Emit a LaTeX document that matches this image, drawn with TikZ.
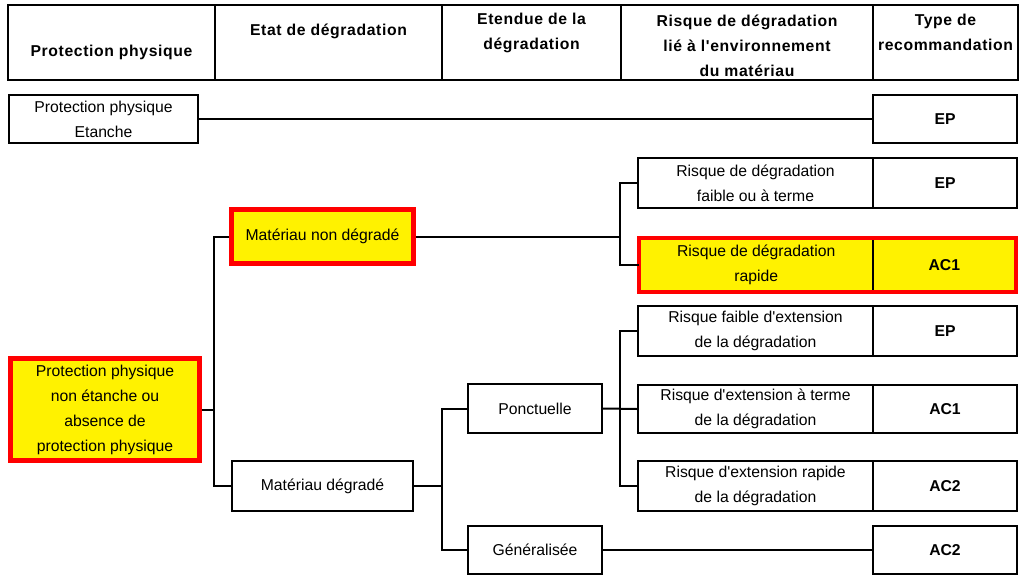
\documentclass[tikz,border=0pt]{standalone}
\usepackage{fontspec}
\setmainfont{Liberation Sans}[Ligatures=TeXOff]
\newfontfamily\hdfont[LetterSpace=4, Ligatures=TeXOff]{Liberation Sans}
\newcommand\txt{\fontsize{11.8}{18.75}\selectfont}
\tikzset{
	sz/.style 2 args={minimum width=#1*0.75pt, minimum height=#2*0.75pt},
	box/.style={draw, line width=1.5pt, inner sep=0pt, align=center, font=\txt},
	hi/.style={box, draw=red, fill=yellow, line width=3.5pt},
	hifill/.style={fill=yellow, inner sep=0pt, align=center, font=\txt},
	rec/.style={box, font=\txt\bfseries},
	hcell/.style={line width=1.6pt},
	htext/.style={align=center, font=\hdfont\bfseries\txt},
	wire/.style={line width=1.5pt},
}

\begin{document}
\begin{tikzpicture}[x=0.75pt, y=-0.75pt]
			%%%%% START %%%%%
			\useasboundingbox (0, 0) rectangle (1020, 578);
			
			% header
			\draw[hcell] (8, 5) rectangle (1018, 80);
			\draw[hcell] (215, 5) -- (215, 80);
			\draw[hcell] (442, 5) -- (442, 80);
			\draw[hcell] (621, 5) -- (621, 80);
			\draw[hcell] (873, 5) -- (873, 80);
			\node[htext] (hprot) at (111.5, 52) {Protection physique};
			\node[htext] (hetat) at (328.5, 31) {Etat de dégradation};
			\node[htext] (hetendue) at (531.5, 32.5) {Etendue de la\\dégradation};
			\node[htext] (hrisque) at (747, 45.5) {Risque de dégradation\\lié à l'environnement\\du matériau};
			\node[htext] (htype) at (945.5, 32.5) {Type de\\recommandation};
			
			% protection etanche
			\node[box, sz={189.3}{48.3}] (etanche) at (103.5, 119) {Protection physique\\Etanche};
			\node[rec, sz={144}{48.3}] (ep0) at (945, 119) {EP};
			\draw[wire] (etanche.east) -- (ep0.west);
			
			% materiau non degrade
			\node[hi, sz={182.3}{54.3}] (nondeg) at (322.5, 236.5) {Matériau non dégradé};
			\node[box, sz={235}{50.3}] (rf) at (755.5, 183) {Risque de dégradation\\faible ou à terme};
			\node[rec, sz={144}{50.3}] (ep1) at (945, 183) {EP};
			\node[hifill, sz={233.65}{53.3}] (rr) at (756.2, 265) {Risque de dégradation\\rapide};
			\node[hifill, sz={142.65}{53.3}, font=\txt\bfseries] (ac1a) at (944.3, 265) {AC1};
			\draw[wire] (rr.north east) -- (rr.south east);
			\draw[red, line width=3.5pt] (rr.north west) rectangle (ac1a.south east);
			\coordinate (j3) at (620, 236.5);
			\draw[wire] (nondeg.east) -- (j3);
			\draw[wire] (rf.west) -| (j3) |- (rr.west);
			
			% protection non etanche
			\node[hi, sz={189.3}{102.3}] (prot) at (105, 409.5) {Protection physique\\non étanche ou\\absence de\\protection physique};
			\coordinate (j1) at (214, 409.5);
			\draw[wire] (prot.east) -- (j1);
			\node[box, sz={181.3}{50.3}] (deg) at (322.5, 486) {Matériau dégradé};
			\draw[wire] (nondeg.west) -| (j1) |- (deg.west);
			
			% materiau degrade
			\node[box, sz={134.3}{49.3}] (ponct) at (535, 408.5) {Ponctuelle};
			\node[box, sz={134.3}{48.3}] (gen) at (535, 550) {Généralisée};
			\coordinate (j2) at (442, 486);
			\draw[wire] (deg.east) -- (j2);
			\draw[wire] (ponct.west) -| (j2) |- (gen.west);
			
			\node[box, sz={235}{50.3}] (ext1) at (755.5, 331) {Risque faible d'extension\\de la dégradation};
			\node[rec, sz={144}{50.3}] (ep2) at (945, 331) {EP};
			\node[box, sz={235}{48.3}] (ext2) at (755.5, 409) {Risque d'extension à terme\\de la dégradation};
			\node[rec, sz={144}{48.3}] (ac1b) at (945, 409) {AC1};
			\node[box, sz={235}{50.3}] (ext3) at (755.5, 486) {Risque d'extension rapide\\de la dégradation};
			\node[rec, sz={144}{50.3}] (ac2a) at (945, 486) {AC2};
			\node[rec, sz={144}{48.3}] (ac2b) at (945, 550) {AC2};
			
			\coordinate (j4) at (620, 409);
			\draw[wire] (ponct.east) -- (ext2.west);
			\draw[wire] (ext1.west) -| (j4) |- (ext3.west);
			\draw[wire] (gen.east) -- (ac2b.west);
			
			%%%%% END %%%%%
\end{tikzpicture}
\end{document}
